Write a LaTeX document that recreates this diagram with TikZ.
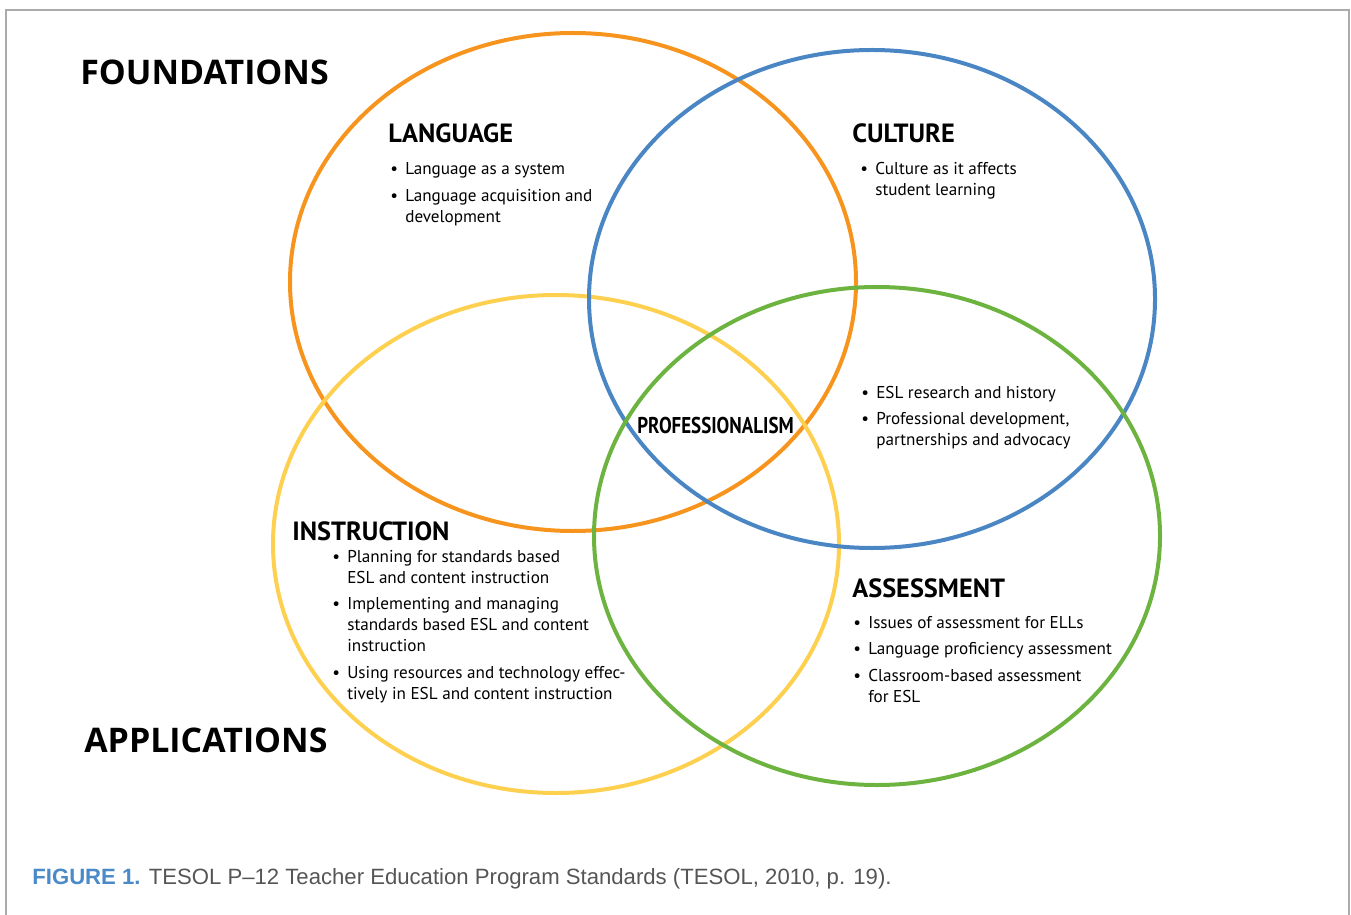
\documentclass[tikz,border=0pt]{standalone}
\usepackage{graphicx}
\usepackage{fontspec}
\setmainfont{PT Sans}
\newfontfamily\capfont{Liberation Sans}
\newfontfamily\bigfont{Open Sans}
\definecolor{langorange}{HTML}{F7941D}
\definecolor{cultblue}{HTML}{4A86C3}
\definecolor{instyellow}{HTML}{FDD04F}
\definecolor{assgreen}{HTML}{6CB33F}
\definecolor{framegray}{HTML}{ABABAB}
\definecolor{capgray}{HTML}{555555}
\definecolor{capblue}{HTML}{4A8AC9}
\tikzset{
  ring/.style={line width=0.08cm},
  bigtitle/.style={anchor=base west, inner sep=0pt, font=\bigfont\fontsize{19.3}{22}\selectfont\bfseries},
  circtitle/.style={anchor=base west, inner sep=0pt, font=\fontsize{15}{17}\selectfont\bfseries},
  itemlist/.style={anchor=base west, inner sep=0pt, font=\fontsize{9.75}{11.95}\selectfont},
}
\newcommand{\bul}{\textbullet}
\newcommand{\itemgap}{\\[3.4pt]}
\newcommand{\blist}[1]{\begin{tabular}[t]{@{}p{8.5pt}@{}l@{}}#1\end{tabular}}

\begin{document}
\begin{tikzpicture}[x=0.02cm, y=-0.02cm]
			%%%%% START %%%%%
			\useasboundingbox (0, 0) rectangle (1351, 915);
			\draw[framegray, line width=0.04cm] (6, 915) -- (6, 10) -- (1349, 10) -- (1349, 915);
			
			% the four circles
			\draw[ring, langorange] (573, 282) ellipse [x radius=283, y radius=249];
			\draw[ring, instyellow] (556, 544) ellipse [x radius=283, y radius=249];
			\draw[ring, cultblue] (872, 299) ellipse [x radius=283, y radius=249];
			\draw[ring, assgreen] (877, 536) ellipse [x radius=283, y radius=249];
			
			\node[bigtitle] (found) at (80, 85) {FOUNDATIONS};
			\node[bigtitle] (appl) at (84, 752) {APPLICATIONS};
			
			\node[circtitle] (lang) at (388, 143) {LANGUAGE};
			\node[itemlist] (langlist) at (390, 175) {\blist{%
				\bul & Language as a system\itemgap
				\bul & Language acquisition and\\
				& development}};
			
			\node[circtitle] (cult) at (852, 143) {CULTURE};
			\node[itemlist] (cultlist) at (860, 175) {\blist{%
				\bul & Culture as it affects\\
				& student learning}};
			
			\node[anchor=base west, inner sep=0pt, font=\fontsize{13}{15}\selectfont\bfseries] (prof) at (637, 433)
				{\scalebox{0.83}[1]{PROFESSIONALISM}};
			\node[itemlist] (proflist) at (861, 398) {\blist{%
				\bul & ESL research and history\itemgap
				\bul & Professional development,\\
				& partnerships and advocacy}};
			
			\node[circtitle] (instr) at (292, 540) {INSTRUCTION};
			\node[itemlist] (instrlist) at (332, 562) {\blist{%
				\bul & Planning for standards based\\
				& ESL and content instruction\itemgap
				\bul & Implementing and managing\\
				& standards based ESL and content\\
				& instruction\itemgap
				\bul & Using resources and technology effec-\\
				& tively in ESL and content instruction}};
			
			\node[circtitle] (assess) at (852, 597) {ASSESSMENT};
			\node[itemlist] (assesslist) at (853, 628) {\blist{%
				\bul & Issues of assessment for ELLs\itemgap
				\bul & Language proficiency assessment\itemgap
				\bul & Classroom-based assessment\\
				& for ESL}};
			
			\node[anchor=base west, inner sep=0pt, font=\capfont\fontsize{12.6}{15}\selectfont, text=capgray] (caption) at (32, 884)
				{\textcolor{capblue}{\bfseries FIGURE 1.} TESOL P–12 Teacher Education Program Standards (TESOL, 2010, p. 19).};
			%%%%% END %%%%%
\end{tikzpicture}
\end{document}
